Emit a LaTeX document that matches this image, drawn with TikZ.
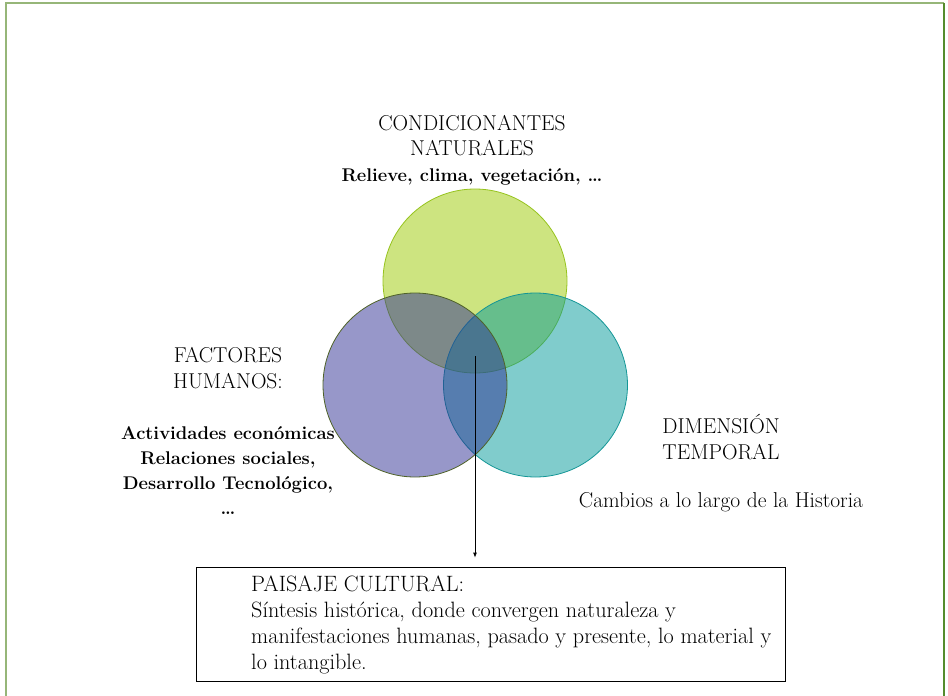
\documentclass[tikz,border=0pt]{standalone}
\usetikzlibrary{arrows.meta}

\definecolor{verdeNat}{RGB}{155,201,1}
\definecolor{bordeNat}{RGB}{150,195,30}
\definecolor{lilaHum}{RGB}{47,47,147}
\definecolor{bordeHum}{RGB}{79,98,40}
\definecolor{turqTem}{RGB}{1,153,153}
\definecolor{bordeTem}{RGB}{20,150,150}
\definecolor{marcoClaro}{RGB}{150,182,120}
\definecolor{marcoOscuro}{RGB}{85,140,45}

\newcommand{\negrita}{\fontsize{18.4}{25}\selectfont\bfseries}

\tikzset{
  circulo/.style={circle, minimum size=184pt, inner sep=0pt, fill opacity=0.5, line width=0.8pt},
  etiqueta/.style={font=\fontsize{21.5}{25.5}\selectfont, align=center, inner sep=0pt},
}

\begin{document}
\begin{tikzpicture}[x=1pt, y=-1pt]
      \useasboundingbox (0,0) rectangle (948,696);
      \draw[marcoClaro, line width=2pt] (6,696) -- (6,3) -- (944,3);
      \draw[marcoOscuro, line width=2pt] (944,3) -- (944,696);

      % los tres circulos
      \node (nat) at (475,281) [circulo, draw=bordeNat, fill=verdeNat] {};
      \node (tem) at (535.5,385) [circulo, draw=bordeTem, fill=turqTem] {};
      \node (hum) at (415,385) [circulo, draw=bordeHum, fill=lilaHum] {};

      \node (tnat) at (472,150) [etiqueta] {CONDICIONANTES\\NATURALES\\{\negrita Relieve, clima, vegetaci\'on, \dots}};
      \node (thum) at (228,368) [etiqueta] {FACTORES\\HUMANOS:};
      \node (dhum) at (228,471) [etiqueta, font=\negrita] {Actividades econ\'omicas\\Relaciones sociales,\\Desarrollo Tecnol\'ogico,\\\dots};
      \node (ttem) at (721,437) [etiqueta] {DIMENSI\'ON\\TEMPORAL};
      \node (dtem) at (721,502) [etiqueta] {Cambios a lo largo de la Historia};

      % sintesis
      \node (caja) at (490.5,624) [draw, line width=0.8pt, minimum width=589pt, minimum height=114pt] {};
      \node (paisaje) at (251,625) [etiqueta, anchor=west, align=left, font=\fontsize{22.2}{26.2}\selectfont]
        {PAISAJE CULTURAL:\\S\'intesis hist\'orica, donde convergen naturaleza y\\manifestaciones humanas, pasado y presente, lo material y\\lo intangible.};

      \coordinate (centro) at (475,356);
      \draw[-{Latex[length=5pt,width=4pt]}, line width=0.8pt, shorten >=9pt] (centro) -- (centro |- caja.north);
\end{tikzpicture}
\end{document}
